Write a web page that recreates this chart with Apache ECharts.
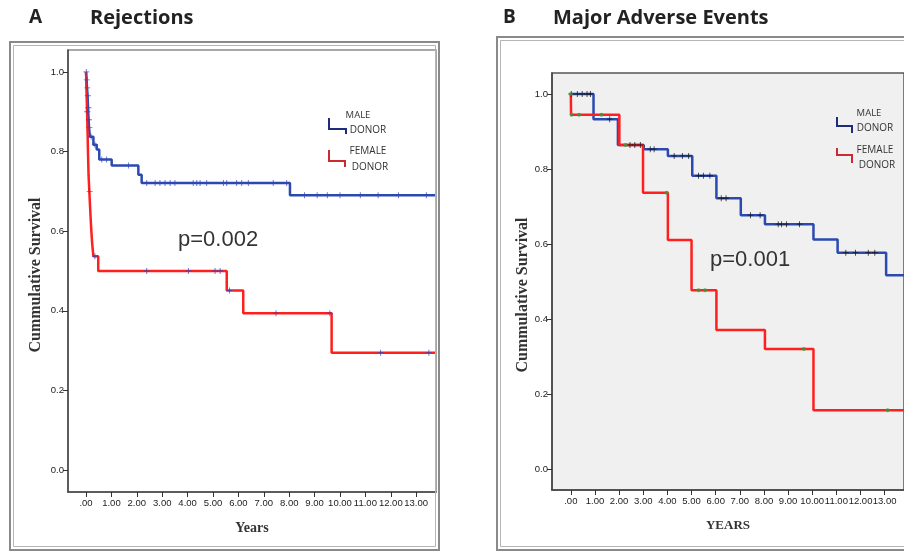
<!DOCTYPE html>
<html>
<head>
<meta charset="utf-8">
<script src="https://cdn.jsdelivr.net/npm/echarts@6/dist/echarts.min.js"></script>
<style>
html,body{margin:0;padding:0;background:#fff;}
#chart{width:904px;height:552px;}
</style>
</head>
<body>
<div id="chart"></div>
<script>
// ---- tick labels ----
const xTickValues = [0,1,2,3,4,5,6,7,8,9,10,11,12,13];
const xTickLabels = ['.00','1.00','2.00','3.00','4.00','5.00','6.00','7.00','8.00','9.00','10.00','11.00','12.00','13.00'];
const yTickValues = [0,0.2,0.4,0.6,0.8,1.0];
const yTickLabels = ['0.0','0.2','0.4','0.6','0.8','1.0'];

// ---- Panel A: Rejections ----
const rejMaleTimes = [0, 0.02, 0.04, 0.06, 0.08, 0.10, 0.12, 0.15, 0.29, 0.42, 0.52, 1.01, 2.06, 2.19, 8.03, 13.75];
const rejMaleSurv  = [1.0, 0.98, 0.96, 0.94, 0.91, 0.88, 0.86, 0.837, 0.817, 0.805, 0.78, 0.765, 0.742, 0.721, 0.69, 0.69];
const rejMaleCensor = [0.01,0.03,0.05,0.07,0.09,0.11,0.13,0.2,0.35,0.62,0.81,1.67,2.39,2.72,2.91,3.11,3.31,3.50,4.22,4.36,4.49,4.75,5.41,5.54,5.93,6.13,6.39,7.37,7.90,8.6,9.1,9.5,10.0,10.8,11.5,12.3,13.4];
const rejFemaleTimes = [0, 0.02, 0.04, 0.06, 0.08, 0.10, 0.13, 0.16, 0.20, 0.24, 0.29, 0.48, 5.54, 6.19, 9.67, 13.75];
const rejFemaleSurv  = [1.0, 0.95, 0.90, 0.85, 0.79, 0.74, 0.70, 0.66, 0.61, 0.57, 0.537, 0.50, 0.451, 0.394, 0.295, 0.295];
const rejFemaleCensor = [0.05, 0.14, 0.35, 2.39, 4.03, 5.08, 5.28, 5.65, 7.48, 9.6, 11.6, 13.5];

// ---- Panel B: Major Adverse Events ----
const maeMaleTimes = [0, 0.94, 1.95, 3.02, 4.02, 5.03, 6.03, 7.04, 8.04, 10.05, 11.05, 13.06, 13.8];
const maeMaleSurv  = [1.0, 0.933, 0.864, 0.853, 0.835, 0.782, 0.722, 0.677, 0.653, 0.612, 0.577, 0.517, 0.517];
const maeMaleCensor = [0.02,0.27,0.47,0.67,0.81,1.61,2.45,2.65,2.88,3.29,3.45,4.28,4.62,4.88,5.29,5.49,5.76,6.23,6.43,7.44,7.84,8.59,8.73,8.93,9.47,11.39,11.79,12.32,12.59];
const maeFemaleTimes = [0, 0.01, 2.01, 2.99, 4.02, 5.0, 6.03, 8.04, 10.05, 13.8];
const maeFemaleSurv  = [1.0, 0.945, 0.864, 0.737, 0.611, 0.477, 0.371, 0.32, 0.157, 0.157];
const maeFemaleCensor = [0, 0.03, 0.34, 1.27, 2.27, 3.97, 5.29, 5.56, 9.65, 13.12];

const pTextA = 'p=0.002';
const pTextB = 'p=0.001';

// ---- helpers ----
function stepData(times, surv){ return times.map((t,i)=>[t, surv[i]]); }
function survAt(times, surv, t){ let s = surv[0]; for(let i=0;i<times.length;i++){ if(times[i] <= t) s = surv[i]; } return s; }
function censorData(times, surv, cens){ return cens.map(t=>[t, survAt(times, surv, t)]); }

const plusPath = 'path://M-0.6,-4 L0.6,-4 L0.6,-0.6 L4,-0.6 L4,0.6 L0.6,0.6 L0.6,4 L-0.6,4 L-0.6,0.6 L-4,0.6 L-4,-0.6 L-0.6,-0.6 Z';

const chart = echarts.init(document.getElementById('chart'), null, {renderer:'canvas'});

function xAxisCfg(gridIndex, min, max){
  return {
    type:'value', gridIndex, min, max,
    axisLine:{show:true, onZero:false, lineStyle:{color:'#444', width:1.5}},
    axisTick:{show:true, inside:false, length:5, customValues:xTickValues, lineStyle:{color:'#333', width:1}},
    axisLabel:{show:true, customValues:xTickValues, margin:6, fontSize:9.5, color:'#222', fontFamily:'Liberation Sans',
      formatter:(v)=>{ const i = xTickValues.indexOf(Math.round(v)); return i>=0 ? xTickLabels[i] : ''; }},
    splitLine:{show:false}
  };
}
function yAxisCfg(gridIndex, min, max){
  return {
    type:'value', gridIndex, min, max,
    axisLine:{show:true, onZero:false, lineStyle:{color:'#444', width:1.5}},
    axisTick:{show:true, inside:false, length:5, customValues:yTickValues, lineStyle:{color:'#333', width:1}},
    axisLabel:{show:true, customValues:yTickValues, margin:4, fontSize:9.5, color:'#222', fontFamily:'Liberation Sans',
      formatter:(v)=>{ const i = yTickValues.findIndex(x=>Math.abs(x-v)<1e-6); return i>=0 ? yTickLabels[i] : ''; }},
    splitLine:{show:false}
  };
}

const option = {
  animation:false,
  backgroundColor:'#ffffff',
  grid:[
    {left:68, top:50, width:368, height:442, show:true, backgroundColor:'#ffffff', borderColor:'#8a8a8a', borderWidth:1.5},
    {left:552, top:73, width:363, height:417, show:true, backgroundColor:'#f0f0f0', borderColor:'#555', borderWidth:1.5}
  ],
  xAxis:[
    Object.assign(xAxisCfg(0, -0.71, 13.78), {name:'Years', nameLocation:'middle', nameGap:29,
      nameTextStyle:{fontFamily:'Liberation Serif', fontWeight:'bold', fontSize:14, color:'#333'}}),
    Object.assign(xAxisCfg(1, -0.78, 13.8), {name:'YEARS', nameLocation:'middle', nameGap:29,
      nameTextStyle:{fontFamily:'Liberation Serif', fontWeight:'bold', fontSize:13, color:'#333'}})
  ],
  yAxis:[
    yAxisCfg(0, -0.055, 1.055),
    yAxisCfg(1, -0.056, 1.056)
  ],
  series:[
    {type:'line', name:'MALE DONOR A', xAxisIndex:0, yAxisIndex:0, step:'end', showSymbol:false,
      data:stepData(rejMaleTimes, rejMaleSurv), lineStyle:{color:'#2a4ab0', width:2.5}, z:2},
    {type:'line', name:'FEMALE DONOR A', xAxisIndex:0, yAxisIndex:0, step:'end', showSymbol:false,
      data:stepData(rejFemaleTimes, rejFemaleSurv), lineStyle:{color:'#ff1f1f', width:2.5}, z:3},
    {type:'scatter', xAxisIndex:0, yAxisIndex:0, symbol:plusPath, symbolSize:6,
      data:censorData(rejMaleTimes, rejMaleSurv, rejMaleCensor), itemStyle:{color:'#3346b8'}, z:4},
    {type:'scatter', xAxisIndex:0, yAxisIndex:0, symbol:plusPath, symbolSize:6,
      data:censorData(rejFemaleTimes, rejFemaleSurv, rejFemaleCensor), itemStyle:{color:'#3346b8'}, z:4},

    {type:'line', name:'MALE DONOR B', xAxisIndex:1, yAxisIndex:1, step:'end', showSymbol:false,
      data:stepData(maeMaleTimes, maeMaleSurv), lineStyle:{color:'#2a4ab0', width:2.5}, z:2},
    {type:'line', name:'FEMALE DONOR B', xAxisIndex:1, yAxisIndex:1, step:'end', showSymbol:false,
      data:stepData(maeFemaleTimes, maeFemaleSurv), lineStyle:{color:'#ff1f1f', width:2.5}, z:3},
    {type:'scatter', xAxisIndex:1, yAxisIndex:1, symbol:plusPath, symbolSize:6,
      data:censorData(maeMaleTimes, maeMaleSurv, maeMaleCensor), itemStyle:{color:'#111'}, z:4},
    {type:'scatter', xAxisIndex:1, yAxisIndex:1, symbol:'circle', symbolSize:4,
      data:censorData(maeFemaleTimes, maeFemaleSurv, maeFemaleCensor), itemStyle:{color:'#3a9a3a'}, z:4}
  ],
  graphic:[
    // outer frames
    {type:'rect', shape:{x:10, y:42, width:429, height:508}, style:{fill:'none', stroke:'#8a8a8a', lineWidth:2}, z:10},
    {type:'rect', shape:{x:13.5, y:45.5, width:422, height:501}, style:{fill:'none', stroke:'#b5b5b5', lineWidth:1}, z:10},
    {type:'rect', shape:{x:497, y:37, width:420, height:513}, style:{fill:'none', stroke:'#8a8a8a', lineWidth:2}, z:10},
    {type:'rect', shape:{x:500.5, y:40.5, width:420, height:506}, style:{fill:'none', stroke:'#b5b5b5', lineWidth:1}, z:10},
    // titles
    {type:'text', x:29, y:18, style:{text:'A', fontFamily:'Open Sans', fontWeight:'bold', fontSize:19, fill:'#222', verticalAlign:'middle'}},
    {type:'text', x:90, y:18, style:{text:'Rejections', fontFamily:'Open Sans', fontWeight:'bold', fontSize:20, fill:'#222', verticalAlign:'middle'}},
    {type:'text', x:503, y:18, style:{text:'B', fontFamily:'Open Sans', fontWeight:'bold', fontSize:19, fill:'#222', verticalAlign:'middle'}},
    {type:'text', x:553, y:18, style:{text:'Major Adverse Events', fontFamily:'Open Sans', fontWeight:'bold', fontSize:20, fill:'#222', verticalAlign:'middle'}},
    // y axis titles
    {type:'text', x:36, y:275, rotation:Math.PI/2, style:{text:'Cummulative Survival', fontFamily:'Liberation Serif', fontWeight:'bold', fontSize:16, fill:'#333', align:'center', verticalAlign:'middle'}},
    {type:'text', x:523, y:295, rotation:Math.PI/2, style:{text:'Cummulative Survival', fontFamily:'Liberation Serif', fontWeight:'bold', fontSize:16, fill:'#333', align:'center', verticalAlign:'middle'}},
    // p-values
    {type:'text', x:178, y:240, style:{text:pTextA, fontFamily:'Liberation Sans', fontSize:22, fill:'#333', verticalAlign:'middle'}, z:20},
    {type:'text', x:710, y:260, style:{text:pTextB, fontFamily:'Liberation Sans', fontSize:22, fill:'#333', verticalAlign:'middle'}, z:20},
    // legend A
    {type:'polyline', shape:{points:[[329,118],[329,129],[346,129],[346,134]]}, style:{stroke:'#1e2d7a', lineWidth:2, fill:'none'}},
    {type:'text', x:358, y:115, style:{text:'MALE', fontFamily:'Open Sans', fontSize:9.5, fill:'#333', align:'center', verticalAlign:'middle'}},
    {type:'text', x:368, y:130, style:{text:'DONOR', fontFamily:'Open Sans', fontSize:10, fill:'#333', align:'center', verticalAlign:'middle'}},
    {type:'polyline', shape:{points:[[329,150],[329,161],[345,161],[345,167]]}, style:{stroke:'#cc2a33', lineWidth:2, fill:'none'}},
    {type:'text', x:368, y:151.5, style:{text:'FEMALE', fontFamily:'Open Sans', fontSize:10, fill:'#333', align:'center', verticalAlign:'middle'}},
    {type:'text', x:370, y:167, style:{text:'DONOR', fontFamily:'Open Sans', fontSize:10, fill:'#333', align:'center', verticalAlign:'middle'}},
    // legend B
    {type:'polyline', shape:{points:[[837,117],[837,126],[852,126],[852,133]]}, style:{stroke:'#1e2d7a', lineWidth:2, fill:'none'}},
    {type:'text', x:869, y:113, style:{text:'MALE', fontFamily:'Open Sans', fontSize:9.5, fill:'#333', align:'center', verticalAlign:'middle'}},
    {type:'text', x:875, y:128.5, style:{text:'DONOR', fontFamily:'Open Sans', fontSize:10, fill:'#333', align:'center', verticalAlign:'middle'}},
    {type:'polyline', shape:{points:[[837,148],[837,155],[852,155],[852,163]]}, style:{stroke:'#cc2a33', lineWidth:2, fill:'none'}},
    {type:'text', x:875, y:150.5, style:{text:'FEMALE', fontFamily:'Open Sans', fontSize:10, fill:'#333', align:'center', verticalAlign:'middle'}},
    {type:'text', x:877, y:165.5, style:{text:'DONOR', fontFamily:'Open Sans', fontSize:10, fill:'#333', align:'center', verticalAlign:'middle'}}
  ]
};
chart.setOption(option);
</script>
</body>
</html>
